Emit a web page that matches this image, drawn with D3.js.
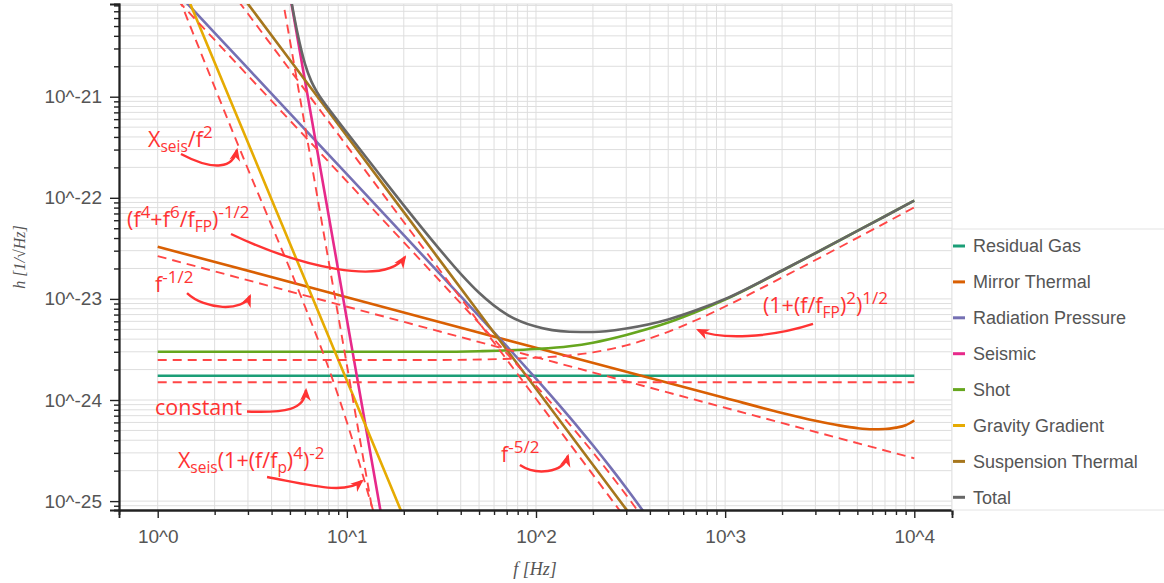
<!DOCTYPE html>
<html><head><meta charset="utf-8">
<script src="https://cdn.jsdelivr.net/npm/d3@7"></script>
<style>body{margin:0;background:#fff;} svg{display:block}</style>
</head><body><svg id="chart" width="1164" height="583"></svg>
<script>
// ---------------- DATA ----------------
const seriesNames = ["Residual Gas","Mirror Thermal","Radiation Pressure","Seismic","Shot","Gravity Gradient","Suspension Thermal","Total"];
const xTickValues = [1,10,100,1000,10000];
const xTickLabels = ["10^0","10^1","10^2","10^3","10^4"];
const yTickValues = [1e-25,1e-24,1e-23,1e-22,1e-21];
const yTickLabels = ["10^-25","10^-24","10^-23","10^-22","10^-21"];

const residualGas = [[1,1.74e-24],[10000,1.74e-24]];
const mirrorThermal = [[1,3.28e-23],[10,1.04e-23],[100,3.28e-24],[1000,1.047e-24],[2000,7.45e-25],[3000,6.24e-25],[4000,5.61e-25],[5000,5.27e-25],[6000,5.14e-25],[7000,5.16e-25],[8000,5.33e-25],[9000,5.63e-25],[10000,6.27e-25]];
const radiationPressure = [[1,1.714e-20],[2,4.285e-21],[3,1.904e-21],[5,6.855e-22],[10,1.713e-22],[20,4.276e-23],[30,1.895e-23],[50,6.763e-24],[70,3.406e-24],[100,1.626e-24],[130,9.306e-25],[170,5.160e-25],[200,3.565e-25],[250,2.107e-25],[300,1.347e-25],[400,6.43e-26],[500,3.53e-26]];
const seismic = [[4,1.10e-19],[5,1.02e-20],[6,1.46e-21],[8,6.79e-23],[10,6.30e-24],[12,9.02e-25],[14,1.75e-25],[16,4.20e-26]];
const shot = [[1,3.0e-24],[30,3.0e-24],[50,3.04e-24],[100,3.19e-24],[150,3.40e-24],[200,3.69e-24],[300,4.40e-24],[500,5.83e-24],[700,7.41e-24],[1000,9.84e-24],[2000,1.90e-23],[3000,2.83e-23],[5000,4.70e-23],[7000,6.57e-23],[10000,9.38e-23]];
const gravityGradient = [[1,4.93e-20],[2,2.18e-21],[5,3.53e-23],[10,1.56e-24],[20,6.89e-26]];
const suspensionThermal = [[1,1.29e-19],[3,8.28e-21],[10,4.08e-22],[30,2.62e-23],[100,1.29e-24],[300,8.28e-26],[500,2.31e-26]];
const total = [[4.8,1.60e-20],[5,1.05e-20],[5.25,6.41e-21],[5.5,4.14e-21],[5.75,2.87e-21],[6,2.12e-21],[6.5,1.41e-21],[7,1.09e-21],[8,7.65e-22],[9,5.72e-22],[10,4.43e-22],[12,2.85e-22],[15,1.67e-22],[20,8.42e-23],[30,3.31e-23],[40,1.77e-23],[50,1.15e-23],[70,7.03e-24],[100,5.32e-24],[150,4.74e-24],[200,4.71e-24],[300,5.10e-24],[500,6.26e-24],[700,7.71e-24],[1000,1.00e-23],[2000,1.91e-23],[3000,2.84e-23],[5000,4.70e-23],[7000,6.57e-23],[10000,9.38e-23]];

// dashed approximations
const approxResidualGas = [[1,1.50e-24],[10000,1.50e-24]];
const approxShot = [[1,2.49e-24],[30,2.49e-24],[100,2.62e-24],[200,2.96e-24],[300,3.47e-24],[500,4.73e-24],[700,6.15e-24],[1000,8.41e-24],[2000,1.63e-23],[5000,4.02e-23],[10000,8.04e-23]];
const approxMirror = [[1,2.65e-23],[10000,2.65e-25]];
const approxRadiation = [[1,1.457e-20],[2,3.642e-21],[5,5.827e-22],[10,1.456e-22],[20,3.635e-23],[30,1.611e-23],[50,5.749e-24],[70,2.895e-24],[100,1.382e-24],[130,7.91e-25],[170,4.386e-25],[200,3.03e-25],[250,1.791e-25],[300,1.145e-25],[400,5.47e-26],[500,3.0e-26]];
const approxSuspension = [[1,1.03e-19],[10,3.26e-22],[100,1.03e-24],[500,1.85e-26]];
const approxSeismicLow = [[1.296,9.47e-21],[2.954,2.063e-22],[5.653,1.118e-23],[8.145,1.892e-24],[10.39,4.83e-25],[13.26,1.026e-25],[14.26,6.50e-26]];
const approxSeismicHigh = [[4,3.89e-20],[6,5.16e-22],[8,2.40e-23],[10,2.23e-24],[12,3.19e-25],[15,2.96e-26]];

// annotations: positions in [log10 f, log10 h]
const annTexts = [
  {pos:[-0.051,-21.498], parts:[["X","n"],["seis","sub"],["/f","n"],["2","sup"]]},
  {pos:[-0.162,-22.289], parts:[["(f","n"],["4","sup"],["+f","n"],["6","sup"],["/f","n"],["FP","sub"],[")","n"],["-1/2","sup"]]},
  {pos:[-0.014,-22.932], parts:[["f","n"],["-1/2","sup"]]},
  {pos:[-0.014,-24.148], parts:[["constant","n"]]},
  {pos:[0.107,-24.673], parts:[["X","n"],["seis","sub"],["(1+(f/f","n"],["p","sub"],[")","n"],["4","sup"],[")","n"],["-2","sup"]]},
  {pos:[1.815,-24.613], parts:[["f","n"],["-5/2","sup"]]},
  {pos:[3.200,-23.140], parts:[["(1+(f/f","n"],["FP","sub"],[")","n"],["2","sup"],[")","n"],["1/2","sup"]]}
];
const annArrows = [
  [[0.123,-21.567],[0.303,-21.745],[0.400,-21.700],[0.419,-21.527]],
  [[0.3875,-22.358],[0.75,-22.68],[1.20,-22.88],[1.307,-22.586]],
  [[0.155,-22.942],[0.250,-23.110],[0.451,-23.130],[0.488,-22.971]],
  [[0.472,-24.114],[0.673,-24.129],[0.779,-24.099],[0.784,-23.901]],
  [[0.578,-24.762],[0.805,-24.841],[0.990,-24.940],[1.080,-24.801]],
  [[1.915,-24.643],[1.995,-24.742],[2.143,-24.732],[2.169,-24.553]],
  [[3.4645,-23.248],[3.237,-23.387],[2.973,-23.4065],[2.8565,-23.3076]]
];

// ---------------- LAYOUT ----------------
const W = 1164, H = 583;
const plot = {left:119, right:952, top:4, bottom:510};
const svg = d3.select("#chart");
const x = d3.scaleLog().domain([0.6243, 15825]).range([plot.left, plot.right]);
const y = d3.scaleLog().domain([8.166e-26, 8.26e-21]).range([plot.bottom, plot.top]);

const colors = d3.schemeDark2;
const colorMap = {
  "Residual Gas": colors[0], "Mirror Thermal": colors[1], "Radiation Pressure": colors[2],
  "Seismic": colors[3], "Shot": colors[4], "Gravity Gradient": colors[5],
  "Suspension Thermal": colors[6], "Total": colors[7]
};
const seriesData = {
  "Residual Gas": residualGas, "Mirror Thermal": mirrorThermal, "Radiation Pressure": radiationPressure,
  "Seismic": seismic, "Shot": shot, "Gravity Gradient": gravityGradient,
  "Suspension Thermal": suspensionThermal, "Total": total
};
const approxList = [approxResidualGas, approxShot, approxMirror, approxRadiation, approxSuspension, approxSeismicLow, approxSeismicHigh];

// minor tick values
const xMinor = [];
for (let e = 0; e < 4; e++) for (let k = 2; k <= 9; k++) xMinor.push(k * Math.pow(10, e));
const yMinor = [];
for (let e = -26; e <= -21; e++) for (let k = 2; k <= 9; k++) {
  const v = k * Math.pow(10, e);
  if (v >= y.domain()[0] && v <= y.domain()[1]) yMinor.push(v);
}

// grid
const grid = svg.append("g").attr("stroke", "#dedede").attr("stroke-width", 1);
[...xMinor, ...xTickValues].forEach(v => {
  grid.append("line").attr("x1", x(v)).attr("x2", x(v)).attr("y1", plot.top).attr("y2", plot.bottom);
});
[...yMinor, ...yTickValues].forEach(v => {
  grid.append("line").attr("y1", y(v)).attr("y2", y(v)).attr("x1", plot.left).attr("x2", plot.right);
});
grid.append("line").attr("x1", plot.right).attr("x2", plot.right).attr("y1", plot.top).attr("y2", plot.bottom);
grid.append("line").attr("x1", plot.left).attr("x2", plot.right).attr("y1", plot.top).attr("y2", plot.top);

// clip
svg.append("defs").append("clipPath").attr("id", "clip")
  .append("rect").attr("x", plot.left).attr("y", plot.top)
  .attr("width", plot.right - plot.left).attr("height", plot.bottom - plot.top);

const line = d3.line().x(d => x(d[0])).y(d => y(d[1])).curve(d3.curveMonotoneX);
const lines = svg.append("g").attr("clip-path", "url(#clip)");
seriesNames.forEach(n => {
  lines.append("path").datum(seriesData[n]).attr("d", line)
    .attr("fill", "none").attr("stroke", colorMap[n]).attr("stroke-width", 2.6);
});
approxList.forEach(a => {
  lines.append("path").datum(a).attr("d", line)
    .attr("fill", "none").attr("stroke", "#ff4646").attr("stroke-width", 1.9)
    .attr("stroke-dasharray", "9,6");
});

// axes
const xAxis = d3.axisBottom(x).tickValues(xTickValues).tickFormat((d, i) => xTickLabels[i]).tickSize(8).tickPadding(12);
const xAxisMinor = d3.axisBottom(x).tickValues(xMinor).tickFormat("").tickSize(5);
const yAxis = d3.axisLeft(y).tickValues(yTickValues).tickFormat((d, i) => yTickLabels[i]).tickSize(9).tickPadding(8);
const yAxisMinor = d3.axisLeft(y).tickValues(yMinor).tickFormat("").tickSize(5);

function styleAxis(g) {
  g.select(".domain").attr("stroke", "#222").attr("stroke-width", 1.8);
  g.selectAll(".tick line").attr("stroke", "#222").attr("stroke-width", 1.4);
  g.selectAll(".tick text").attr("fill", "#555").attr("font-family", "Liberation Sans, Arial, sans-serif").attr("font-size", 19);
}
svg.append("g").attr("transform", `translate(0,${plot.bottom})`).call(xAxisMinor).call(styleAxis);
svg.append("g").attr("transform", `translate(0,${plot.bottom})`).call(xAxis).call(styleAxis);
svg.append("g").attr("transform", `translate(${plot.left},0)`).call(yAxisMinor).call(styleAxis);
svg.append("g").attr("transform", `translate(${plot.left},0)`).call(yAxis).call(styleAxis);

// axis titles
svg.append("text").attr("x", (x(1) + x(10000)) / 2 - 1).attr("y", 575)
  .attr("text-anchor", "middle").attr("font-family", "Liberation Serif, DejaVu Serif, serif")
  .attr("font-style", "italic").attr("font-size", 18).attr("fill", "#555").text("f [Hz]");
svg.append("text").attr("transform", `translate(25,${(plot.top + plot.bottom) / 2}) rotate(-90)`)
  .attr("text-anchor", "middle").attr("font-family", "Liberation Serif, DejaVu Serif, serif")
  .attr("font-style", "italic").attr("font-size", 16).attr("fill", "#555").text("h [1/√Hz]");

// legend
const legend = svg.append("g");
const legTop = 229;
legend.append("rect").attr("x", plot.right).attr("y", legTop).attr("width", W - plot.right + 2)
  .attr("height", plot.bottom - legTop).attr("fill", "#fff").attr("stroke", "#e4e4e4");
seriesNames.forEach((n, i) => {
  const yy = legTop + 17 + i * 35.9;
  legend.append("line").attr("x1", plot.right + 1).attr("x2", plot.right + 13).attr("y1", yy).attr("y2", yy)
    .attr("stroke", colorMap[n]).attr("stroke-width", 3);
  legend.append("text").attr("x", plot.right + 21).attr("y", yy).attr("dy", "0.35em")
    .attr("font-family", "Liberation Sans, Arial, sans-serif").attr("font-size", 18).attr("fill", "#555").text(n);
});

// annotations
const red = "#ff3333";
const defs = svg.select("defs");
defs.append("marker").attr("id", "ah").attr("viewBox", "0 0 12 12").attr("refX", 10).attr("refY", 6)
  .attr("markerWidth", 13).attr("markerHeight", 13).attr("markerUnits", "userSpaceOnUse").attr("orient", "auto")
  .append("path").attr("d", "M0,1 L12,6 L0,11 L3.5,6 Z").attr("fill", red);
const P = p => [x(Math.pow(10, p[0])), y(Math.pow(10, p[1]))];
const ann = svg.append("g");
annArrows.forEach(a => {
  const [s, c1, c2, e] = a.map(P);
  ann.append("path").attr("d", `M${s}C${c1} ${c2} ${e}`).attr("fill", "none")
    .attr("stroke", red).attr("stroke-width", 2.4).attr("marker-end", "url(#ah)");
});
annTexts.forEach(t => {
  const [px, py] = P(t.pos);
  const txt = ann.append("text").attr("x", px).attr("y", py).attr("fill", red)
    .attr("font-family", "Open Sans, Noto Sans, sans-serif").attr("font-size", 21.5);
  let cur = 0;
  t.parts.forEach(([s, m]) => {
    const target = m === "sub" ? 5 : m === "sup" ? -9 : 0;
    txt.append("tspan").attr("dy", target - cur).attr("font-size", m === "n" ? 21.5 : (m === "sup" ? 17 : 15.5)).text(s);
    cur = target;
  });
});
</script></body></html>
